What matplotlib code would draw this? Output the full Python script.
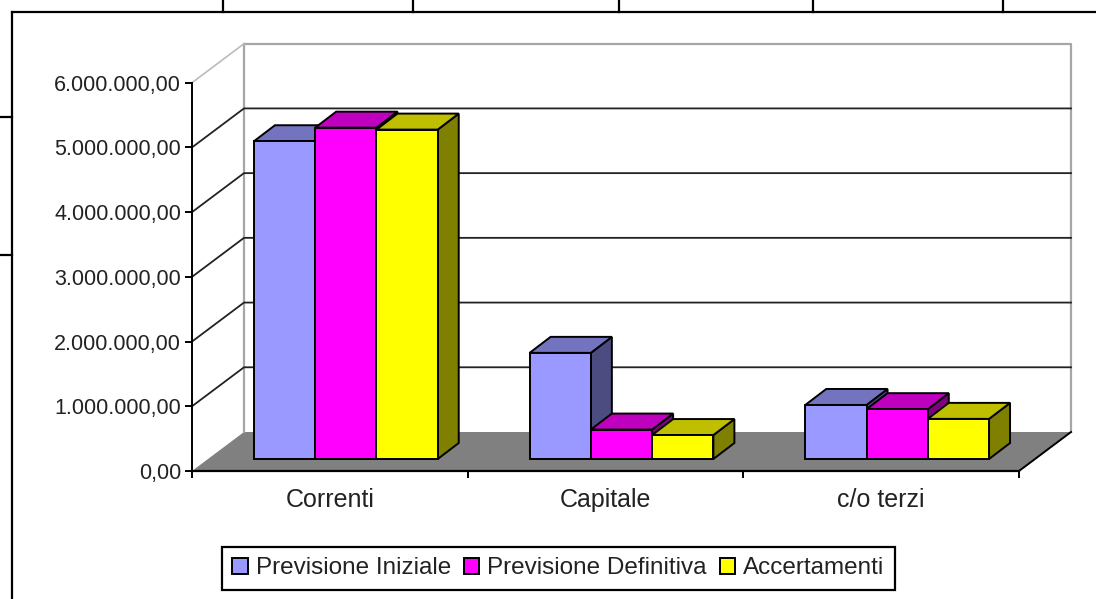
# grafico a barre 3D finto (stile Excel) disegnato su assi 2D
import matplotlib
matplotlib.use("Agg")
import matplotlib.pyplot as plt
from matplotlib.lines import Line2D
from matplotlib.patches import Patch
from matplotlib.ticker import FuncFormatter

plt.rcParams["font.family"] = ["Liberation Sans", "DejaVu Sans"]

categories = ["Correnti", "Capitale", "c/o terzi"]
series_names = ["Previsione Iniziale", "Previsione Definitiva", "Accertamenti"]
previsione_iniziale = [4910000, 1640000, 835000]
previsione_definitiva = [5120000, 455000, 770000]
accertamenti = [5090000, 370000, 620000]
y_ticks = [0, 1000000, 2000000, 3000000, 4000000, 5000000, 6000000]

series = [previsione_iniziale, previsione_definitiva, accertamenti]
front_colors = ["#9999FF", "#FF00FF", "#FFFF00"]
top_colors = ["#7373BF", "#BF00BF", "#BFBF00"]
side_colors = ["#4C4C80", "#800080", "#808000"]

W, H = 1096, 599
fig = plt.figure(figsize=(W / 100, H / 100), dpi=100)

# assi sul piano frontale: x 192-1019 px, y 471-82.7 px
left, right, bottom, top = 192, 1019, 471, 82.7
ax = fig.add_axes([left / W, 1 - bottom / H, (right - left) / W, (bottom - top) / H])
ax.set_xlim(0, 3)
ax.set_ylim(0, 6000000)
ax.patch.set_visible(False)

# conversione px -> unita' dati per la profondita'
px_x = 3 / (right - left)
px_y = 6000000 / (bottom - top)
wall_dx, wall_dy = 52 * px_x, 39 * px_y
base_dx, base_dy = 16 * px_x, 12 * px_y
bar_dx, bar_dy = 21 * px_x, 16 * px_y

grey = "#A6A6A6"

# pavimento
ax.fill([0, 3, 3 + wall_dx, wall_dx], [0, 0, wall_dy, wall_dy],
        color="#808080", lw=0, clip_on=False, zorder=1)

# pareti
ax.plot([wall_dx, wall_dx], [wall_dy, 6000000 + wall_dy], color=grey, lw=1.6, clip_on=False, zorder=1)
ax.plot([wall_dx, 3 + wall_dx, 3 + wall_dx], [6000000 + wall_dy, 6000000 + wall_dy, wall_dy],
        color=grey, lw=1.6, clip_on=False, zorder=1)
ax.plot([0, wall_dx], [6000000, 6000000 + wall_dy], color="#BBBBBB", lw=1.2, clip_on=False, zorder=1)
ax.plot([3, 3 + wall_dx], [0, wall_dy], color="black", lw=1.4, clip_on=False, zorder=2)

# griglia
for v in y_ticks[1:-1]:
    ax.plot([0, wall_dx, 3 + wall_dx], [v, v + wall_dy, v + wall_dy],
            color="#222222", lw=1.3, clip_on=False, zorder=2)

# barre
bar_w = 1 / 4.5
for i in range(len(categories)):
    for j, values in enumerate(series):
        v = values[i]
        x0 = i + bar_w * 0.75 + j * bar_w + base_dx
        x1 = x0 + bar_w
        y0 = base_dy
        y1 = base_dy + v
        z = 3 + i * 3 + j
        ax.fill([x1, x1 + bar_dx, x1 + bar_dx, x1], [y0, y0 + bar_dy, y1 + bar_dy, y1],
                facecolor=side_colors[j], edgecolor="black", lw=1.4, clip_on=False, zorder=z)
        ax.fill([x0, x1, x1 + bar_dx, x0 + bar_dx], [y1, y1, y1 + bar_dy, y1 + bar_dy],
                facecolor=top_colors[j], edgecolor="black", lw=1.4, clip_on=False, zorder=z)
        ax.bar(x0, v, width=bar_w, bottom=y0, align="edge", color=front_colors[j],
               edgecolor="black", lw=1.4, clip_on=False, zorder=z + 0.5)

# assi
ax.spines["top"].set_visible(False)
ax.spines["right"].set_visible(False)
ax.spines["left"].set_linewidth(1.4)
ax.spines["bottom"].set_linewidth(1.6)
ax.spines["bottom"].set_zorder(20)
ax.set_yticks(y_ticks)
ax.yaxis.set_major_formatter(FuncFormatter(
    lambda v, p: f"{v:,.2f}".replace(",", "#").replace(".", ",").replace("#", ".")))
ax.set_xticks([0, 1, 2, 3])
ax.set_xticklabels([])
ax.set_xticks([0.5, 1.5, 2.5], minor=True)
ax.set_xticklabels(categories, minor=True)
ax.tick_params(axis="y", length=5, width=1.4, pad=3, labelsize=15.5, labelcolor="#222222")
ax.tick_params(axis="x", which="major", length=5, width=1.4)
ax.tick_params(axis="x", which="minor", length=0, pad=12, labelsize=18, labelcolor="#222222")

# legenda
handles = [Patch(facecolor=c, edgecolor="black", lw=1.4) for c in front_colors]
fig.legend(handles, series_names, loc="center", bbox_to_anchor=(558.5 / W, 1 - 568.5 / H),
           ncol=3, fontsize=17.5, fancybox=False, framealpha=1, edgecolor="black",
           handlelength=0.62, handleheight=0.62, handletextpad=0.33, columnspacing=0.55,
           borderpad=0.45, labelcolor="#222222").get_frame().set_linewidth(1.6)

# cornice e linee della tabella attorno
def page_line(xs, ys):
    fig.add_artist(Line2D([x / W for x in xs], [1 - y / H for y in ys], color="black", lw=1.6))

page_line([12, 12], [H, 12])
page_line([12, W], [12, 12])
for x in [223, 413, 619, 813, 1003]:
    page_line([x, x], [0, 12])
for y in [117, 255]:
    page_line([0, 12], [y, y])

fig.savefig("out.png", dpi=100)
